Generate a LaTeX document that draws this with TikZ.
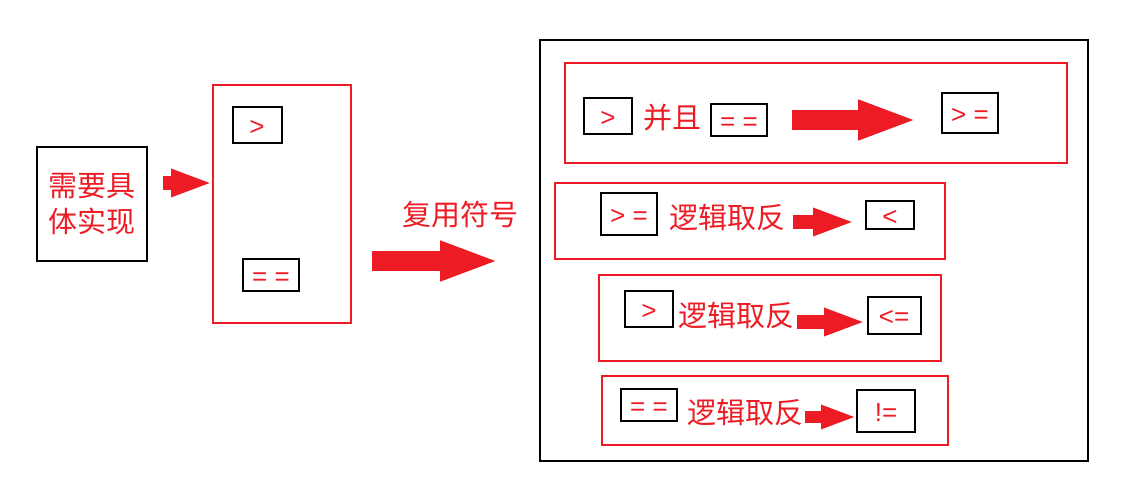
\documentclass[tikz,border=0pt]{standalone}
\usepackage{fontspec}
\newfontfamily\cjk{Noto Sans CJK SC}
\newfontfamily\symf{Liberation Sans}
\usetikzlibrary{arrows.meta}
\definecolor{rd}{HTML}{ED1C24}
\begin{document}
\begin{tikzpicture}[x=1pt,y=-1pt,
  rbox/.style={draw=rd,line width=2pt},
  bbox/.style={draw=black,line width=2pt},
  sym/.style={draw=black,line width=2pt,text=rd,font=\symf\fontsize{26}{26}\selectfont,inner sep=0pt,text height=20pt,text depth=0pt},
  lab/.style={text=rd,font=\cjk\fontsize{29}{36}\selectfont,inner sep=0pt},
  arr/.style={rd,line width=#1, -{Triangle[length=3*#1,width=1.8*#1]}}]
\useasboundingbox (0,0) rectangle (1146,495);
% left box
\node[bbox,minimum width=110pt,minimum height=114pt,lab,align=center,inner sep=2pt] (need) at (92,204) {需要具\\体实现};
\draw[rbox] (213,85) rectangle (351,323);
\node[sym,minimum width=49pt,minimum height=36pt] (g1) at (257,125) {>};
\node[sym,minimum width=56pt,minimum height=32pt] (e1) at (271,275) {= =};
\coordinate (a1s) at (163,183); \coordinate (a1e) at (213,183);
\draw[arr=14pt] (a1s) -- (a1e);
\node[lab] (reuse) at (460,215) {复用符号};
\coordinate (a2s) at (372,261); \coordinate (a2e) at (500,261);
\draw[arr=20pt] (a2s) -- (a2e);
\draw[bbox] (540,40) rectangle (1088,461);
% row 1
\draw[rbox] (565,63) rectangle (1067,163);
\node[sym,minimum width=48pt,minimum height=36pt] (r1a) at (608,116) {>};
\node[lab] (r1t) at (672,118) {并且};
\node[sym,minimum width=56pt,minimum height=32pt] (r1b) at (739,120) {= =};
\coordinate (r1s) at (792,120); \coordinate (r1e) at (918,120);
\draw[arr=20pt] (r1s) -- (r1e);
\node[sym,minimum width=56pt,minimum height=40pt] (r1c) at (970,113) {> =};
% row 2
\draw[rbox] (555,183) rectangle (945,259);
\node[sym,minimum width=56pt,minimum height=42pt] (r2a) at (629,214) {> =};
\node[lab] (r2t) at (727,218) {逻辑取反};
\coordinate (r2s) at (793,222); \coordinate (r2e) at (855,222);
\draw[arr=14pt] (r2s) -- (r2e);
\node[sym,minimum width=48pt,minimum height=28pt] (r2c) at (890,215) {<};
% row 3
\draw[rbox] (599,275) rectangle (941,361);
\node[sym,minimum width=48pt,minimum height=36pt] (r3a) at (649,309) {>};
\node[lab] (r3t) at (736,316) {逻辑取反};
\coordinate (r3s) at (797,322); \coordinate (r3e) at (866,322);
\draw[arr=14pt] (r3s) -- (r3e);
\node[sym,minimum width=53pt,minimum height=37pt] (r3c) at (894,315) {<=};
% row 4
\draw[rbox] (602,376) rectangle (948,445);
\node[sym,minimum width=56pt,minimum height=32pt] (r4a) at (649,405) {= =};
\node[lab] (r4t) at (745,413) {逻辑取反};
\coordinate (r4s) at (805,417); \coordinate (r4e) at (857,417);
\draw[arr=12pt] (r4s) -- (r4e);
\node[sym,minimum width=58pt,minimum height=42pt] (r4c) at (886,411) {!=};
\end{tikzpicture}
\end{document}
